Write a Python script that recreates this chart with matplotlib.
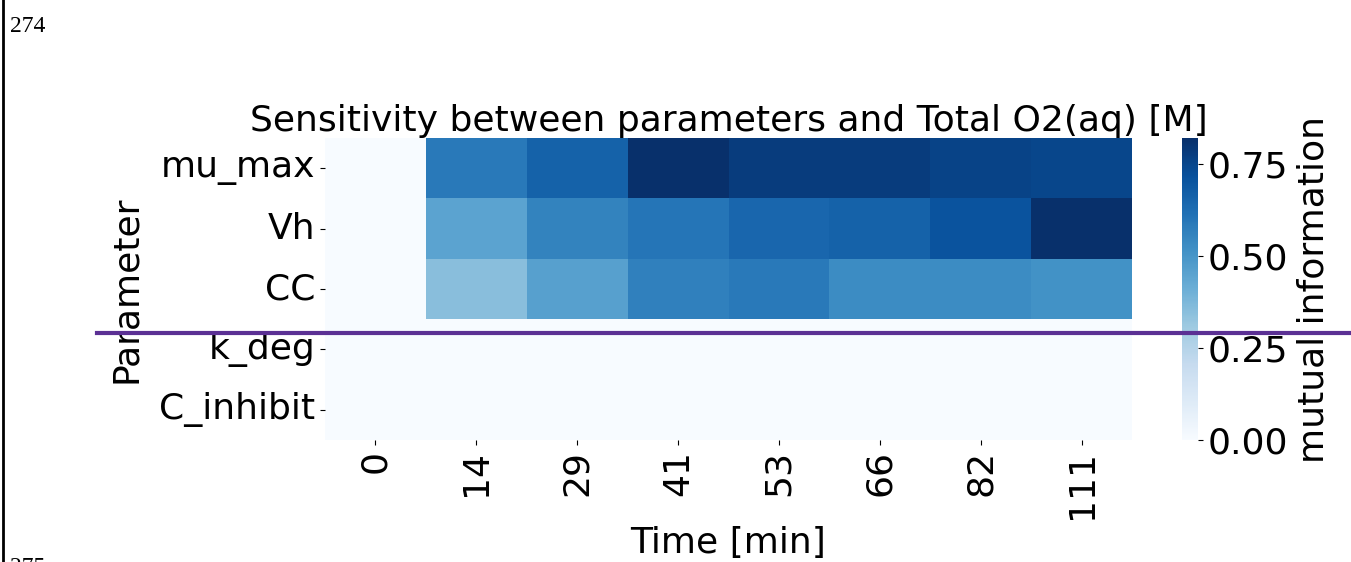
import numpy as np
import matplotlib.pyplot as plt
import seaborn as sns
from matplotlib.lines import Line2D

# данные: взаимная информация параметров и Total O2(aq)
params = ['mu_max', 'Vh', 'CC', 'k_deg', 'C_inhibit']
times = ['0', '14', '29', '41', '53', '66', '82', '111']
mu_max = [0.0, 0.59, 0.66, 0.82, 0.78, 0.78, 0.76, 0.75]
vh = [0.0, 0.45, 0.56, 0.60, 0.65, 0.66, 0.71, 0.82]
cc = [0.0, 0.35, 0.46, 0.57, 0.59, 0.53, 0.53, 0.51]
k_deg = [0.0] * 8
c_inhibit = [0.0] * 8

mi = np.array([mu_max, vh, cc, k_deg, c_inhibit])

fig = plt.figure(figsize=(13.51, 5.62), dpi=100)
ax = fig.add_axes([0.2406, 0.2171, 0.5973, 0.5373])
cax = fig.add_axes([0.875, 0.2171, 0.0118, 0.5373])

fs = 26
sns.heatmap(mi, ax=ax, cbar_ax=cax, cmap='Blues', vmin=0,
            xticklabels=times, yticklabels=params)
ax.set_title('Sensitivity between parameters and Total O2(aq) [M]', fontsize=fs, pad=3)
ax.set_xlabel('Time [min]', fontsize=fs, labelpad=5)
ax.set_ylabel('Parameter', fontsize=fs, labelpad=12)
ax.tick_params(axis='x', labelsize=fs, rotation=90)
ax.tick_params(axis='y', labelsize=fs, rotation=0)
cax.tick_params(labelsize=fs)
cax.set_ylabel('mutual information', fontsize=fs, labelpad=6)
cax.set_yticks([0, 0.25, 0.5, 0.75])

# элементы страницы вокруг картинки
fig.add_artist(Line2D([0.0025, 0.0025], [0, 1], color='k', linewidth=2))
fig.text(0.0075, 0.952, '274', fontsize=17, family='Liberation Serif', va='center')
fig.text(0.0075, -0.01, '275', fontsize=17, family='Liberation Serif', va='center')
fig.add_artist(Line2D([0.072, 1.0], [0.408, 0.408], color='#5b3094', linewidth=3))

plt.savefig('out.png', dpi=100)
